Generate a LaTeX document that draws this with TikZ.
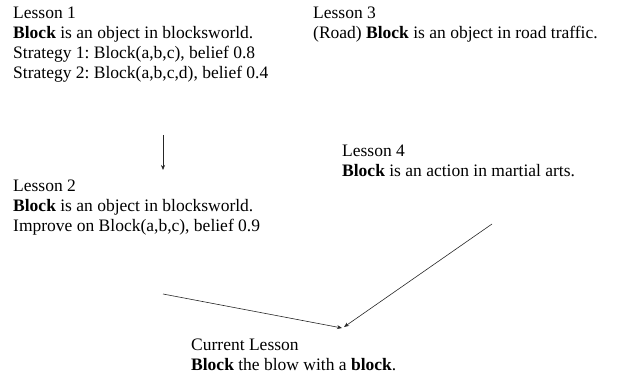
\documentclass[tikz,border=0pt]{standalone}
\usepackage{fontspec}
\setmainfont{Liberation Serif}
\usetikzlibrary{arrows.meta}
\frenchspacing

\tikzset{
    lesson/.style={anchor=north west, inner sep=0pt, align=left,
        font=\fontsize{17.5}{20}\selectfont},
    link/.style={-{Stealth[length=5pt,width=4pt]}, line width=0.6pt, black!85}
}

\begin{document}
\begin{tikzpicture}[x=1pt, y=-1pt]
    \useasboundingbox (0,0) rectangle (620,382);

    % Earlier lessons
    \node[lesson] (l1) at (13,7) {Lesson 1\\
        \textbf{Block} is an object in blocksworld.\\
        Strategy 1: Block(a,b,c), belief 0.8\\
        Strategy 2: Block(a,b,c,d), belief 0.4};
    \node[lesson] (l3) at (313,7) {Lesson 3\\
        (Road) \textbf{Block} is an object in road traffic.};
    \node[lesson] (l2) at (13,180) {Lesson 2\\
        \textbf{Block} is an object in blocksworld.\\
        Improve on Block(a,b,c), belief 0.9};
    \node[lesson] (l4) at (342,145) {Lesson 4\\
        \textbf{Block} is an action in martial arts.};

    % Current lesson
    \node[lesson] (cur) at (191,339) {Current Lesson\\
        \textbf{Block} the blow with a \textbf{block}.};

    % Arrow ends
    \coordinate (l1out) at (163,135);
    \coordinate (l2in) at (163,170);
    \coordinate (l2out) at (163,294);
    \coordinate (l4out) at (492,224);
    \coordinate (curinA) at (342,328);
    \coordinate (curinB) at (344,327);

    \draw[link] (l1out) -- (l2in);
    \draw[link] (l2out) -- (curinA);
    \draw[link] (l4out) -- (curinB);
\end{tikzpicture}
\end{document}
